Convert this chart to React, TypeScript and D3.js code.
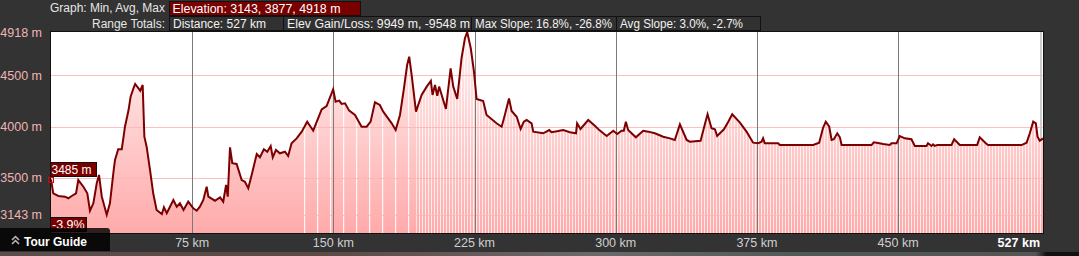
import React from "react";
import * as d3 from "d3";

// ---- data ----
const distanceKm = [
  0, 1.2, 3.9, 7.4, 9.2, 11.0, 13.3, 14.5, 17.2, 19.3, 20.7, 22.5, 24.3, 25.5, 27.0, 29.6, 31.3, 33.1, 34.0, 35.7,
  37.6, 39.3, 41.2, 42.3, 43.8, 44.7, 47.4, 48.7, 49.6, 50.8, 52.6, 54.3, 56.1, 58.9, 60.0, 61.5, 65.0, 66.8, 68.5, 70.4,
  72.9, 75.6, 77.4, 79.1, 80.9, 82.7, 83.6, 87.1, 89.8, 91.5, 93.0, 93.9, 95.1, 96.3, 98.6, 101.3, 103.0, 104.8, 106.6, 109.3,
  111.0, 113.1, 114.9, 116.7, 117.8, 119.5, 121.6, 124.3, 126.0, 127.8, 130.5, 133.2, 136.1, 139.3, 143.8, 146.4, 149.9, 151.2, 153.1, 154.4,
  156.2, 158.4, 161.5, 165.0, 167.7, 169.8, 172.1, 174.7, 176.5, 181.0, 183.1, 185.4, 187.5, 189.2, 190.3, 191.6, 193.9, 196.9, 199.6, 201.8,
  202.7, 204.0, 205.2, 206.2, 209.8, 212.3, 213.7, 215.8, 218.1, 219.9, 221.1, 223.0, 224.7, 226.1, 229.6, 231.4, 236.7, 239.4, 241.1, 243.3,
  244.7, 247.4, 249.5, 251.2, 252.7, 255.3, 256.2, 261.5, 264.7, 265.9, 269.5, 272.1, 275.7, 278.9, 279.5, 281.3, 285.4, 288.9, 291.6, 295.2,
  298.7, 300.8, 303.1, 304.3, 305.4, 306.6, 310.7, 314.6, 317.3, 320.8, 325.2, 328.8, 331.4, 334.1, 337.7, 339.4, 345.1, 347.4, 348.8, 350.9,
  352.7, 353.9, 357.5, 359.8, 361.9, 366.0, 369.5, 373.0, 375.7, 377.5, 378.3, 379.2, 386.3, 387.2, 404.9, 408.1, 410.2, 411.6, 413.4, 414.7,
  415.9, 417.7, 419.1, 420.0, 435.9, 437.1, 438.6, 442.1, 445.6, 446.5, 449.2, 450.9, 453.6, 457.1, 458.9, 465.1, 465.9, 467.8, 468.6, 469.5,
  470.8, 478.4, 479.8, 482.8, 492.0, 493.4, 496.6, 497.8, 515.6, 518.3, 520.0, 521.8, 523.2, 524.1, 525.3, 527,
];
const elevationM = [
  3485, 3351, 3325, 3318, 3303, 3325, 3351, 3480, 3415, 3351, 3182, 3254, 3448, 3529, 3318, 3143, 3254, 3545, 3675, 3779,
  3779, 3998, 4160, 4290, 4371, 4413, 4348, 4403, 3901, 3804, 3578, 3351, 3189, 3150, 3215, 3157, 3286, 3221, 3254, 3189,
  3270, 3205, 3182, 3221, 3286, 3415, 3318, 3279, 3312, 3270, 3432, 3318, 3798, 3643, 3636, 3480, 3464, 3400, 3529, 3733,
  3701, 3779, 3755, 3811, 3701, 3772, 3740, 3755, 3713, 3837, 3885, 3950, 4047, 3959, 4167, 4199, 4361, 4241, 4251, 4219,
  4225, 4154, 4112, 3998, 3998, 4047, 4235, 4209, 4144, 4031, 3966, 4112, 4371, 4597, 4678, 4500, 4144, 4306, 4387, 4442,
  4306, 4403, 4299, 4387, 4170, 4565, 4387, 4267, 4663, 4857, 4918, 4760, 4532, 4267, 4248, 4112, 4031, 3998, 4112, 4273,
  4151, 4095, 3976, 4047, 4063, 4031, 3950, 3934, 3966, 3944, 3956, 3966, 3944, 3934, 4031, 3976, 4063, 4008, 3960, 3908,
  3959, 3927, 3959, 3959, 4047, 3966, 3895, 3959, 3950, 3934, 3901, 3885, 3869, 4021, 3869, 3852, 3862, 4024, 4119, 3983,
  3973, 3908, 3973, 4047, 4119, 4037, 3950, 3843, 3837, 3852, 3885, 3837, 3837, 3820, 3820, 3843, 3990, 4047, 4000, 3869,
  3876, 3934, 3895, 3820, 3820, 3847, 3843, 3830, 3820, 3837, 3837, 3908, 3885, 3876, 3811, 3811, 3837, 3811, 3827, 3811,
  3820, 3820, 3876, 3820, 3820, 3895, 3837, 3820, 3820, 3843, 3934, 4047, 4031, 3901, 3862, 3885,
];

const yTickValues = [3143, 3500, 4000, 4500, 4918];
const xTickValues = [75, 150, 225, 300, 375, 450, 527];

const graphLabel = "Graph: Min, Avg, Max";
const elevationSummary = "Elevation: 3143, 3877, 4918 m";
const rangeLabel = "Range Totals:";
const rangeTotals = [
  "Distance: 527 km",
  "Elev Gain/Loss: 9949 m, -9548 m",
  "Max Slope: 16.8%, -26.8%",
  "Avg Slope: 3.0%, -2.7%",
];
const rangeBoxEdges = [169, 283, 471, 616, 760];
const rangeTextWidths = [93, 183, 137, 123];
const cursorElevation = "3485 m";
const cursorSlope = "-3.9%";

// stripe texture zones (km) where the sample bars show gaps
const sparseStripeKm = [129, 194];
const denseStripeKm = [194, 527];

const W = 1079;
const H = 256;
const L = 51, R = 1043, T = 32, B = 233;
const FONT = "'Liberation Sans', Arial, sans-serif";

export default function App() {
  const yMin = 3143 - 0.1 * (4918 - 3143);
  const x = d3.scaleLinear().domain([0, 527]).range([L, R]);
  const y = d3.scaleLinear().domain([yMin, 4918]).range([B, T]);
  const pts = distanceKm.map((d, i) => [d, elevationM[i]] as [number, number]);
  const area = d3.area<[number, number]>().x((d) => x(d[0])).y0(B).y1((d) => y(d[1]))(pts) || "";
  const line = d3.line<[number, number]>().x((d) => x(d[0])).y((d) => y(d[1]))(pts) || "";

  if (typeof document !== "undefined") {
    document.body.style.margin = "0";
    document.body.style.background = "#333333";
  }

  return (
    <svg width={W} height={H} style={{ position: "absolute", left: 0, top: 0, display: "block" }} fontFamily={FONT}>
      <defs>
        <linearGradient id="fillGrad" gradientUnits="userSpaceOnUse" x1="0" y1={T} x2="0" y2={B}>
          <stop offset="0" stopColor="#fff2f2" />
          <stop offset="1" stopColor="#ffaaaa" />
        </linearGradient>
        <linearGradient id="bottomStrip" x1="0" y1="0" x2="1" y2="0">
          <stop offset="0" stopColor="#5a4e4a" />
          <stop offset="0.3" stopColor="#5c4a46" />
          <stop offset="0.55" stopColor="#6a6a6a" />
          <stop offset="0.75" stopColor="#4e5a55" />
          <stop offset="0.96" stopColor="#555" />
          <stop offset="0.97" stopColor="#111" />
        </linearGradient>
        <pattern id="denseStripes" patternUnits="userSpaceOnUse" width="3" height="10" x={L}>
          <rect x="2" y="0" width="1" height="10" fill="#ffffff" opacity="0.75" />
        </pattern>
        <pattern id="sparseStripes" patternUnits="userSpaceOnUse" width="13" height="10" x={L}>
          <rect x="6" y="0" width="1.2" height="10" fill="#ffffff" opacity="0.9" />
        </pattern>
        <clipPath id="areaClip">
          <path d={area} />
        </clipPath>
      </defs>

      <rect x={0} y={0} width={W} height={H} fill="#333333" />
      <rect x={0} y={252} width={W} height={4} fill="url(#bottomStrip)" />

      {/* header */}
      <text x={50} y={12} fill="#e6e6e6" fontSize={12.5} textLength={115} lengthAdjust="spacingAndGlyphs">{graphLabel}</text>
      <rect x={169.5} y={1.5} width={191} height={14} fill="#7a0000" stroke="#111" />
      <text x={172.5} y={12.5} fill="#ffffff" fontSize={12.5} textLength={168} lengthAdjust="spacingAndGlyphs">{elevationSummary}</text>
      <text x={92} y={28} fill="#e6e6e6" fontSize={12.5} textLength={73} lengthAdjust="spacingAndGlyphs">{rangeLabel}</text>
      {rangeTotals.map((t, i) => (
        <g key={t}>
          <rect x={rangeBoxEdges[i] + 0.5} y={16.5} width={rangeBoxEdges[i + 1] - rangeBoxEdges[i]} height={14}
            fill="#313131" stroke="#111" />
          <text x={rangeBoxEdges[i] + 4} y={28} fill="#f2f2f2" fontSize={12.5}
            textLength={rangeTextWidths[i]} lengthAdjust="spacingAndGlyphs">{t}</text>
        </g>
      ))}

      {/* plot */}
      <rect x={L} y={T} width={R - L} height={B - T} fill="#ffffff" />
      <line x1={R - 2} x2={R - 2} y1={T} y2={B} stroke="#999" />
      <path d={area} fill="url(#fillGrad)" />
      <g clipPath="url(#areaClip)">
        <rect x={x(sparseStripeKm[0])} y={T} width={x(sparseStripeKm[1]) - x(sparseStripeKm[0])} height={B - T}
          fill="url(#sparseStripes)" />
        <rect x={x(denseStripeKm[0])} y={T} width={x(denseStripeKm[1]) - x(denseStripeKm[0])} height={B - T}
          fill="url(#denseStripes)" />
      </g>
      {yTickValues.filter((v) => v !== 4918).map((v) => (
        <line key={v} x1={L} x2={R} y1={Math.round(y(v)) + 0.5} y2={Math.round(y(v)) + 0.5} stroke="#ffb4b4" opacity={0.85} />
      ))}
      {xTickValues.filter((v) => v !== 527).map((v) => (
        <line key={v} x1={Math.round(x(v)) + 0.5} x2={Math.round(x(v)) + 0.5} y1={T} y2={B} stroke="#7a7a7a" />
      ))}
      <path d={line} fill="none" stroke="#7d0000" strokeWidth={2} strokeLinejoin="miter" />
      <rect x={L - 0.5} y={T - 0.5} width={R - L + 1} height={B - T + 1} fill="none" stroke="#111" />

      {/* y labels */}
      {yTickValues.map((v) => (
        <text key={v} x={42} y={y(v) + 4.5} fill="#f0b4b4" fontSize={12.5} textAnchor="end">{v} m</text>
      ))}
      {/* x labels */}
      {xTickValues.map((v) => (
        <text key={v} x={v === 527 ? x(v) - 3 : x(v)} y={247} fill={v === 527 ? "#ffffff" : "#cfcfcf"}
          fontWeight={v === 527 ? "bold" : "normal"} fontSize={12.5} textAnchor={v === 527 ? "end" : "middle"}>{v} km</text>
      ))}

      {/* cursor tooltips */}
      <rect x={48.5} y={177.5} width={5} height={5} fill="none" stroke="#e00000" />
      <rect x={50.5} y={162.5} width={46} height={14} fill="#7a0000" stroke="#111" />
      <text x={51.5} y={174} fill="#ffffff" fontSize={12.5} textLength={40} lengthAdjust="spacingAndGlyphs">{cursorElevation}</text>
      <rect x={50.5} y={217.5} width={36} height={14} fill="#7a0000" stroke="#111" />
      <text x={52} y={229} fill="#ffffff" fontSize={12.5}>{cursorSlope}</text>

      {/* tour guide overlay */}
      <path d="M0,228 H107 Q110,228 110,231 V251 H0 Z" fill="#000" opacity={0.82} />
      <path d="M12,240 L15.5,236.5 L19,240 M12,244 L15.5,240.5 L19,244" fill="none" stroke="#bbb" strokeWidth={1.5} />
      <text x={24} y={246} fill="#ffffff" fontSize={13} fontWeight="bold" textLength={63} lengthAdjust="spacingAndGlyphs">Tour Guide</text>
    </svg>
  );
}
